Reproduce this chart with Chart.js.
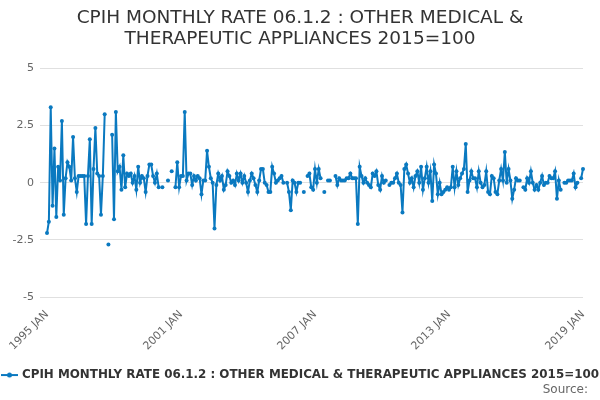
<!DOCTYPE html>
<html>
<head>
<meta charset="utf-8">
<script src="https://cdn.jsdelivr.net/npm/chart.js@4"></script>
<style>
  html, body { margin: 0; padding: 0; background: #fff; }
  #wrap { width: 600px; height: 400px; }
</style>
</head>
<body>
<div id="wrap"><canvas id="chart"></canvas></div>
<script>
const years = [1995, 1996, 1997, 1998, 1999, 2000, 2001, 2002, 2003, 2004, 2005, 2006,
    2007, 2008, 2009, 2010, 2011, 2012, 2013, 2014, 2015, 2016, 2017, 2018, 2019];
const months = ['JAN', 'FEB', 'MAR', 'APR', 'MAY', 'JUN', 'JUL', 'AUG', 'SEP', 'OCT', 'NOV', 'DEC'];
const shownTicks = ['1995 JAN', '2001 JAN', '2007 JAN', '2013 JAN', '2019 JAN'];
const yTicks = [-5, -2.5, 0, 2.5, 5];

// monthly rate, one row per year (Jan..Dec), null = no value
const rate = [
    -2.2, -1.7, 3.3, -1.0, 1.5, -1.5, 0.7, 0.1, 2.7, -1.4, 0.2, 0.9,
    0.7, 0.1, 2.0, 0.2, -0.4, 0.3, 0.3, 0.3, 0.3, -1.8, 0.3, 1.9,
    -1.8, 0.6, 2.4, 0.4, 0.3, -1.4, 0.3, 3.0, null, -2.7, null, 2.1,
    -1.6, 3.1, 0.5, 0.7, -0.3, 1.2, -0.2, 0.4, 0.3, 0.4, 0.0, 0.3,
    -0.3, 0.7, 0.0, 0.3, 0.2, -0.4, 0.3, 0.8, 0.8, 0.3, 0.0, 0.4,
    -0.2, null, -0.2, null, null, 0.1, null, 0.5, null, -0.2, 0.9, -0.2,
    0.3, 0.3, 3.1, 0.1, 0.4, 0.4, -0.1, 0.3, 0.1, 0.3, 0.2, -0.5,
    0.1, 0.1, 1.4, 0.7, 0.2, 0.0, -2.0, -0.1, 0.4, 0.1, 0.3, -0.3,
    -0.1, 0.5, 0.3, 0.0, 0.1, -0.1, 0.4, 0.1, 0.4, 0.0, 0.3, 0.0,
    -0.4, 0.1, 0.4, 0.2, -0.1, -0.4, 0.1, 0.6, 0.6, 0.0, -0.1, -0.4,
    -0.4, 0.7, 0.4, 0.0, 0.1, 0.2, 0.3, 0.0, null, 0.0, -0.4, -1.2,
    0.1, 0.0, -0.4, 0.0, 0.0, null, -0.4, null, 0.3, 0.4, -0.2, -0.3,
    0.6, 0.0, 0.6, 0.2, null, -0.4, null, 0.1, 0.1, null, null, 0.3,
    -0.1, 0.2, 0.1, 0.1, 0.1, 0.2, 0.2, 0.4, 0.2, 0.2, 0.2, -1.8,
    0.7, 0.3, 0.0, 0.2, 0.0, -0.1, -0.2, 0.4, 0.3, 0.5, -0.1, -0.3,
    0.3, 0.0, 0.1, null, -0.1, 0.0, 0.0, 0.2, 0.4, 0.0, -0.1, -1.3,
    0.6, 0.8, 0.4, 0.0, 0.2, -0.2, 0.3, 0.5, 0.0, 0.7, -0.3, 0.2,
    0.7, 0.0, 0.5, -0.8, 0.8, 0.4, -0.5, 0.0, -0.5, -0.4, -0.3, -0.2,
    -0.3, -0.2, 0.7, -0.2, 0.5, -0.1, 0.2, 0.4, 0.6, 1.7, -0.4, 0.1,
    0.5, 0.2, 0.2, -0.2, 0.5, 0.0, -0.2, -0.1, 0.5, -0.4, -0.5, 0.3,
    0.2, -0.4, -0.5, 0.1, 0.6, 0.1, 1.35, 0.0, 0.6, 0.1, -0.7, -0.3,
    0.2, 0.1, 0.1, null, -0.2, -0.3, 0.2, 0.0, 0.5, 0.0, -0.3, -0.1,
    -0.3, 0.0, 0.3, -0.1, 0.0, 0.0, 0.3, 0.2, 0.2, 0.5, -0.7, 0.1,
    -0.3, null, 0.0, 0.0, 0.1, 0.1, 0.1, 0.4, -0.2, 0.0, null, 0.2,
    0.6
];

const seriesName = 'CPIH MONTHLY RATE 06.1.2 : OTHER MEDICAL & THERAPEUTIC APPLIANCES 2015=100';
const blue = '#0a79c0';

const labels = [];
years.forEach(y => months.forEach(m => {
    if (labels.length < rate.length) labels.push(y + ' ' + m);
}));

// legend marker: short line with a dot
const marker = document.createElement('canvas');
marker.width = 17;
marker.height = 8;
const mc = marker.getContext('2d');
mc.strokeStyle = blue;
mc.lineWidth = 2;
mc.beginPath();
mc.moveTo(0, 4);
mc.lineTo(17, 4);
mc.stroke();
mc.fillStyle = blue;
mc.beginPath();
mc.arc(8.5, 4, 2.5, 0, Math.PI * 2);
mc.fill();

// "Source:" note bottom right
const sourceNote = {
    id: 'sourceNote',
    afterDraw(chart) {
        const c = chart.ctx;
        c.save();
        c.font = '12px "DejaVu Sans", sans-serif';
        c.fillStyle = '#666';
        c.textAlign = 'right';
        c.textBaseline = 'middle';
        c.fillText('Source:', chart.width - 12, chart.height - 10);
        c.restore();
    }
};

Chart.defaults.font.family = '"DejaVu Sans", sans-serif';

new Chart(document.getElementById('chart'), {
    type: 'line',
    data: {
        labels: labels,
        datasets: [{
            label: seriesName,
            data: rate,
            borderColor: blue,
            backgroundColor: blue,
            borderWidth: 2,
            pointRadius: 2,
            pointHoverRadius: 2,
            pointBorderWidth: 0,
            tension: 0,
            spanGaps: false
        }]
    },
    plugins: [sourceNote],
    options: {
        responsive: true,
        maintainAspectRatio: false,
        animation: false,
        layout: {
            padding: { left: 0, right: 0, top: 0, bottom: 9 }
        },
        plugins: {
            title: {
                display: true,
                text: ['CPIH MONTHLY RATE 06.1.2 : OTHER MEDICAL &', 'THERAPEUTIC APPLIANCES 2015=100'],
                color: '#333',
                font: { size: 18.5, weight: 'normal', lineHeight: 1.12 },
                padding: { top: 8, bottom: 19 }
            },
            legend: {
                position: 'bottom',
                align: 'start',
                labels: {
                    usePointStyle: true,
                    pointStyle: marker,
                    pointStyleWidth: 13,
                    color: '#333',
                    font: { size: 11.9, weight: 'bold' },
                    padding: 3
                }
            },
            tooltip: { enabled: false }
        },
        scales: {
            x: {
                grid: { display: false },
                border: { display: false },
                afterFit: s => { s.height = 69; },
                ticks: {
                    autoSkip: false,
                    maxRotation: 45,
                    minRotation: 45,
                    color: '#666',
                    font: { size: 11 },
                    callback: function (value, index) {
                        const l = labels[index];
                        return shownTicks.includes(l) ? l : '';
                    }
                }
            },
            y: {
                min: -5,
                max: 5,
                afterFit: s => { s.width = 47; },
                afterBuildTicks: axis => { axis.ticks = yTicks.map(v => ({ value: v })); },
                grid: { color: '#e0e0e0', tickLength: 7, tickColor: '#e0e0e0' },
                border: { display: false },
                ticks: {
                    color: '#666',
                    font: { size: 11 },
                    padding: 6
                }
            },
            yRight: {
                position: 'right',
                afterFit: s => { s.width = 17; },
                grid: { display: false },
                border: { display: false },
                ticks: { display: false }
            }
        }
    }
});
</script>
</body>
</html>
